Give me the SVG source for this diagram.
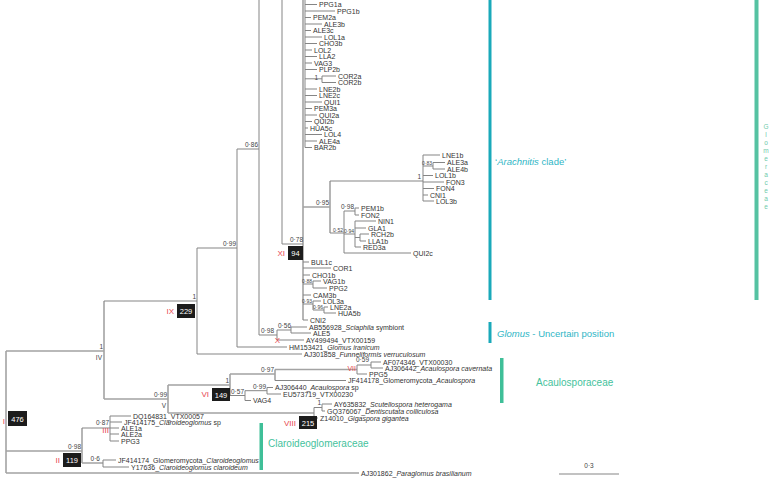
<svg xmlns="http://www.w3.org/2000/svg" width="771" height="480" viewBox="0 0 771 480">
<style>
text{font-family:"Liberation Sans",Arial,sans-serif}
.br{stroke:#858585;stroke-width:1;fill:none}
.tk{stroke:#a3a3a3;stroke-width:1.6;fill:none}
.lf{font-size:7px;fill:#333}
.sp{font-size:6.5px;fill:#444}
.ss{font-size:5px;fill:#444}
.sp.e,.ss.e{text-anchor:end}
.rn{font-size:8px;fill:#e8464f;text-anchor:end}
.bx{fill:#1c1c1c}
.bt{font-size:7.5px;fill:#fff;text-anchor:middle}
.i{font-style:italic}
.cy{fill:#1aa9ba}
.gr{fill:#3fbf98}
.ct{font-size:9.5px;fill:#2fb6c6}
.gt{font-size:10px;fill:#45c29c}
.gl{font-size:6.5px;fill:#6fcaab;text-anchor:middle}
</style>
<g id="connectors">
<g class="tk">
<path d="M6 351V473M6 351H104M6 451H82M6 473H359"/>
<path d="M104 301V399M104 399H168"/>
<path d="M168 385V413M168 385H230M168 413H314"/>
<path d="M230 374V395.5M230 374H275M275 369.5V380.5M275 369.5H357"/>
<path d="M82 428V463M82 463H103"/>
<path d="M303 0V320M303 207H330M330 181V233"/>
</g>
<g class="br">
<path d="M104 301H197"/>
<path d="M197 248V354M197 248H237M197 354H302"/>
<path d="M237 149V347M237 149H259M237 347H287"/>
<path d="M259 0V335M259 335H277"/>
<path d="M277 330V340M277 330H291M277 340H304M291 327V333M291 327H307M291 333H311"/>
<path d="M282 0V244H303"/>
<path d="M303 262H309M303 268H331M303 275H310M303 284H313M303 295H311M303 304H313M303 320H308"/>
<path d="M313 281V288M313 281H321M313 288H327"/>
<path d="M313 301V310M313 301H321M313 310H324M324 307V313M324 307H328M324 313H336"/>
<path d="M305 0V147.5M305 4.5H317M305 11H335M305 17.5H311M305 24H322M305 30.5H311M305 37H322M305 43.5H317M305 50H312M305 56.5H317M305 63H312M305 69.5H317M305 78.8H322M322 76V82.5M322 76H336M322 82.5H336M305 89H317M305 95.5H317M305 102H322M305 108.5H312M305 115H317M305 121.5H312M305 128H308M305 134.5H322M305 141H317M305 147.5H312"/>
<path d="M330 181H423M330 233H344"/>
<path d="M423 155V201M423 155H440M423 166H433M433 162.5V169M433 162.5H445M433 169H445M423 175.5H433M423 182H444M423 188.5H434M423 195H428M423 201H434"/>
<path d="M344 211V253M344 211H355M344 234H355M344 253H411"/>
<path d="M355 208V215M355 208H359M355 215H359"/>
<path d="M355 221V247M355 221H376M355 228H366M355 237.5H360M360 234V241M360 234H369M360 241H366M355 247H361"/>
<path d="M230 395.5H245"/>
<path d="M275 380.5H346"/>
<path d="M357 365V374M357 365H371M357 374H367M371 362V368M371 362H381M371 368H383"/>
<path d="M245 390.7V400.5M245 390.7H267M245 400.5H251M267 387.5V394M267 387.5H273M267 394H281"/>
<path d="M314 407.5V418M314 407.5H322M314 418H318M322 404V411M322 404H332M322 411H325"/>
<path d="M82 428H110"/>
<path d="M110 416V441M110 416H131M110 422H122M110 428H119M110 434H119M110 441H119"/>
<path d="M103 460V467M103 460H116M103 467H129"/>
<path d="M559 474H619"/>
</g>
</g>
<g id="bars">
<rect id="bar-arachnitis" class="cy" x="488.5" y="0" width="3" height="300"/>
<rect id="bar-glomus" class="cy" x="488.5" y="322" width="3" height="21"/>
<rect id="bar-acaulo" class="gr" x="500" y="358" width="3.5" height="45"/>
<rect id="bar-claroideo" class="gr" x="259.5" y="423" width="3.5" height="47"/>
<rect id="bar-glomeraceae" x="754.5" y="0" width="4" height="300" fill="#55c2a2"/>
</g>
<g id="clade-labels">
<text id="lab-arachnitis" class="ct" x="495" y="165">‘<tspan class="i">Arachnitis</tspan> clade’</text>
<text id="lab-glomus" class="ct" x="497" y="337"><tspan class="i">Glomus</tspan> - Uncertain position</text>
<text id="lab-acaulo" class="gt" x="536" y="386">Acaulosporaceae</text>
<text id="lab-claroideo" class="gt" x="268" y="447">Claroideoglomeraceae</text>
<g id="lab-glomeraceae" class="gl"><text x="766" y="129">G</text><text x="766" y="137">l</text><text x="766" y="145">o</text><text x="766" y="153">m</text><text x="766" y="161">e</text><text x="766" y="169">r</text><text x="766" y="177">a</text><text x="766" y="185">c</text><text x="766" y="193">e</text><text x="766" y="201">a</text><text x="766" y="209">e</text></g>
</g>
<g id="leaves" class="lf">
<text x="319" y="7">PPG1a</text><text x="337" y="13.5">PPG1b</text><text x="313" y="20">PEM2a</text><text x="324" y="26.5">ALE3b</text><text x="313" y="33">ALE3c</text><text x="324" y="39.5">LOL1a</text><text x="319" y="46">CHO3b</text><text x="314" y="52.5">LOL2</text><text x="319" y="59">LLA2</text><text x="314" y="65.5">VAG3</text><text x="319" y="72">PLP2b</text><text x="338" y="78.5">COR2a</text><text x="338" y="85">COR2b</text><text x="319" y="91.5">LNE2b</text><text x="319" y="98">LNE2c</text><text x="324" y="104.5">QUI1</text><text x="314" y="111">PEM3a</text><text x="319" y="117.5">QUI2a</text><text x="314" y="124">QUI2b</text><text x="310" y="130.5">HUA5c</text><text x="324" y="137">LOL4</text><text x="319" y="143.5">ALE4a</text><text x="314" y="150">BAR2b</text>
<text x="442" y="157.5">LNE1b</text><text x="447" y="165">ALE3a</text><text x="447" y="171.5">ALE4b</text><text x="435" y="178">LOL1b</text><text x="446" y="184.5">FON3</text><text x="436" y="191">FON4</text><text x="430" y="197.5">CNI1</text><text x="436" y="203.5">LOL3b</text>
<text x="361" y="210.5">PEM1b</text><text x="361" y="217.5">FON2</text><text x="378" y="223.5">NIN1</text><text x="368" y="230.5">GLA1</text><text x="371" y="236.5">RCH2b</text><text x="368" y="243.5">LLA1b</text><text x="363" y="249.5">RED3a</text><text x="413" y="255.5">QUI2c</text>
<text x="311" y="264.5">BUL1c</text><text x="333" y="270.5">COR1</text><text x="312" y="277.5">CHO1b</text><text x="323" y="283.5">VAG1b</text><text x="329" y="290.5">PPG2</text><text x="313" y="297.5">CAM3b</text><text x="323" y="303.5">LOL3a</text><text x="330" y="309.5">LNE2a</text><text x="338" y="315.5">HUA5b</text><text x="310" y="322.5">CNI2</text>
<text x="309" y="329.5">AB556928_<tspan class="i">Sciaphila</tspan> symbiont</text><text x="313" y="335.5">ALE5</text><text x="306" y="342.5">AY499494_VTX00159</text>
<text x="289" y="349.5">HM153421_<tspan class="i">Glomus iranicum</tspan></text>
<text x="304" y="356.5">AJ301858_<tspan class="i">Funneliformis verruculosum</tspan></text>
<text x="383" y="364.5">AF074346_VTX00030</text><text x="385" y="370.5">AJ306442_<tspan class="i">Acaulospora cavernata</tspan></text><text x="369" y="376.5">PPG5</text><text x="348" y="383">JF414178_Glomeromycota_<tspan class="i">Acaulospora</tspan></text>
<text x="275" y="390">AJ306440_<tspan class="i">Acaulospora</tspan> sp</text><text x="283" y="396.5">EU573719_VTX00230</text><text x="253" y="403">VAG4</text>
<text x="334" y="406.5">AY635832_<tspan class="i">Scutellospora heterogama</tspan></text><text x="327" y="413.5">GQ376067_<tspan class="i">Dentiscutata colliculosa</tspan></text><text x="320" y="420.5">Z14010_<tspan class="i">Gigaspora gigantea</tspan></text>
<text x="133" y="418.5">DQ164831_VTX00057</text><text x="124" y="424.5">JF414175_<tspan class="i">Claroideoglomus</tspan> sp</text><text x="121" y="430.5">ALE1a</text><text x="121" y="436.5">ALE2a</text><text x="121" y="443.5">PPG3</text>
<text x="118" y="462.5">JF414174_Glomeromycota_<tspan class="i">Claroideoglomus</tspan></text><text x="131" y="469.5">Y17636_<tspan class="i">Claroideoglomus claroideum</tspan></text>
<text x="361" y="475.5">AJ301862_<tspan class="i">Paraglomus brasilianum</tspan></text>
</g>
<g id="supports">
<text class="sp e" x="318" y="80">1</text>
<text class="sp e" x="421" y="179">1</text>
<text class="ss e" x="432" y="164.5">0·83</text>
<text class="sp e" x="329" y="205">0·95</text>
<text class="sp e" x="354" y="209">0·98</text>
<text class="ss e" x="343" y="231.5">0·52</text>
<text class="ss e" x="354" y="232.5">0·94</text>
<text class="sp e" x="303" y="241.5">0·78</text>
<text class="ss e" x="312" y="282.5">0·88</text>
<text class="ss e" x="312" y="302.5">0·93</text>
<text class="ss e" x="323" y="308.5">0·96</text>
<text class="sp e" x="258" y="147">0·86</text>
<text class="sp e" x="236" y="246">0·99</text>
<text class="sp e" x="196" y="299">1</text>
<text class="sp e" x="274" y="333">0·98</text>
<text class="sp e" x="291" y="328">0·56</text>
<text class="sp e" x="103" y="349">1</text>
<text class="sp e" x="102" y="360">IV</text>
<text class="sp e" x="167" y="397">0·99</text>
<text class="sp e" x="166" y="408">V</text>
<text class="sp e" x="229" y="383">1</text>
<text class="sp e" x="274" y="372">0·97</text>
<text class="sp e" x="369" y="362">0·59</text>
<text class="sp e" x="244" y="394">0·57</text>
<text class="sp e" x="266" y="389">0·99</text>
<text class="sp e" x="321" y="405">1</text>
<text class="sp e" x="109" y="425">0·87</text>
<text class="sp e" x="81" y="449">0·98</text>
<text class="sp e" x="100" y="461">0·6</text>
<text class="sp" x="589" y="468" text-anchor="middle">0·3</text>
</g>
<g id="node-I"><text class="rn" x="5" y="424">I</text><rect class="bx" x="8" y="411" width="19" height="15"/><text class="bt" x="17.5" y="421.5">476</text></g>
<g id="node-II"><text class="rn" x="60" y="463">II</text><rect class="bx" x="63" y="453" width="18" height="14"/><text class="bt" x="72" y="463">119</text></g>
<g id="node-III"><text class="rn" x="109" y="433">III</text></g>
<g id="node-IX"><text class="rn" x="174" y="314">IX</text><rect class="bx" x="177" y="304" width="18" height="14"/><text class="bt" x="186" y="314">229</text></g>
<g id="node-XI"><text class="rn" x="285" y="256">XI</text><rect class="bx" x="288" y="246" width="15" height="14"/><text class="bt" x="295.5" y="256">94</text></g>
<g id="node-X"><text class="rn" x="280" y="343">X</text></g>
<g id="node-VI"><text class="rn" x="209" y="397">VI</text><rect class="bx" x="212" y="388" width="18" height="13"/><text class="bt" x="221" y="397.5">149</text></g>
<g id="node-VII"><text class="rn" x="356" y="371" style="font-size:7px">VII</text></g>
<g id="node-VIII"><text class="rn" x="296" y="426">VIII</text><rect class="bx" x="299" y="416" width="18" height="13"/><text class="bt" x="308" y="425.5">215</text></g>
</svg>
